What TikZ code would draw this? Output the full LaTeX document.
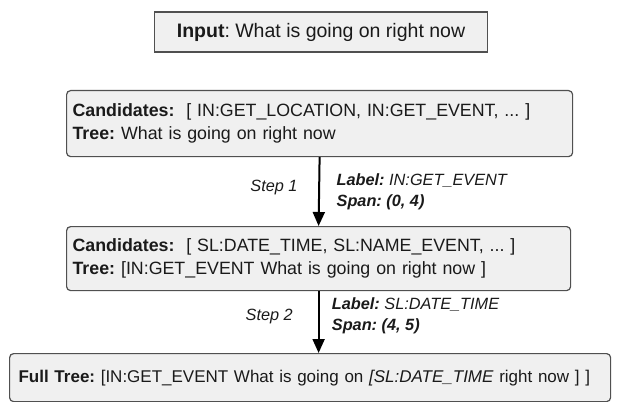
\documentclass[tikz,border=0pt]{standalone}
\usepackage{fontspec}
\setmainfont{Liberation Sans}
\usetikzlibrary{positioning, arrows.meta, calc}
\definecolor{boxfill}{HTML}{F0F0F0}
\definecolor{boxline}{HTML}{505050}
\definecolor{txt}{HTML}{1A1A1A}
\frenchspacing

\begin{document}
\begin{tikzpicture}[x=1pt, y=-1pt, >={Triangle[length=14pt, width=12pt]}, font=\fontsize{17.8}{23}\selectfont, text=txt]
\tikzset{
  inbox/.style={draw=boxline, fill=boxfill, line width=1.5pt, minimum width=333pt, minimum height=40pt, font=\fontsize{19.5}{23}\selectfont},
  stepbox/.style={draw=boxline, fill=boxfill, line width=1.2pt, rounded corners=4pt, anchor=north west, align=left, inner xsep=6pt},
  note/.style={font=\fontsize{16.3}{21}\selectfont\itshape, align=left},
  flow/.style={->, line width=2pt, black}
}
\useasboundingbox (0,0) rectangle (617,401);

\node[inbox] (input) at (321,32) {\textbf{Input}: What is going on right now};
\node[stepbox, text width=494pt, minimum height=66pt] (cand1) at (66,90)
  {\textbf{Candidates:}\ \ [ IN:GET\_LOCATION, IN:GET\_EVENT, ... ]\\ \textbf{Tree:} What is going on right now};
\node[stepbox, text width=492pt, minimum height=64pt] (cand2) at (66,226)
  {\textbf{Candidates:}\ \ [ SL:DATE\_TIME, SL:NAME\_EVENT, ... ]\\ \textbf{Tree:} [IN:GET\_EVENT What is going on right now ]};
\node[stepbox, text width=583pt, minimum height=48pt, inner xsep=9pt, font=\fontsize{17}{21}\selectfont] (full) at (9,353)
  {\mbox{\textbf{Full Tree:} [IN:GET\_EVENT What is going on \textit{[SL:DATE\_TIME} right now ]~]}};

\draw[flow] (cand1.south) -- (cand2.north);
\draw[flow] (cand2.south) -- (cand2.south |- full.north);

\coordinate (mid1) at ($(cand1.south)!0.5!(cand2.north)$);
\coordinate (mid2) at ($(cand2.south)!0.5!(full.north)+(0,-6)$);

\node[note, left=18pt of mid1, yshift=4pt] (step1) {Step 1};
\node[note, right=14pt of mid1] (lab1) {\textbf{Label:} IN:GET\_EVENT\\ \textbf{Span: (0, 4)}};
\node[note, left=18pt of mid2] (step2) {Step 2};
\node[note, right=14pt of mid2] (lab2) {\textbf{Label:} SL:DATE\_TIME\\ \textbf{Span: (4, 5)}};
\end{tikzpicture}
\end{document}
